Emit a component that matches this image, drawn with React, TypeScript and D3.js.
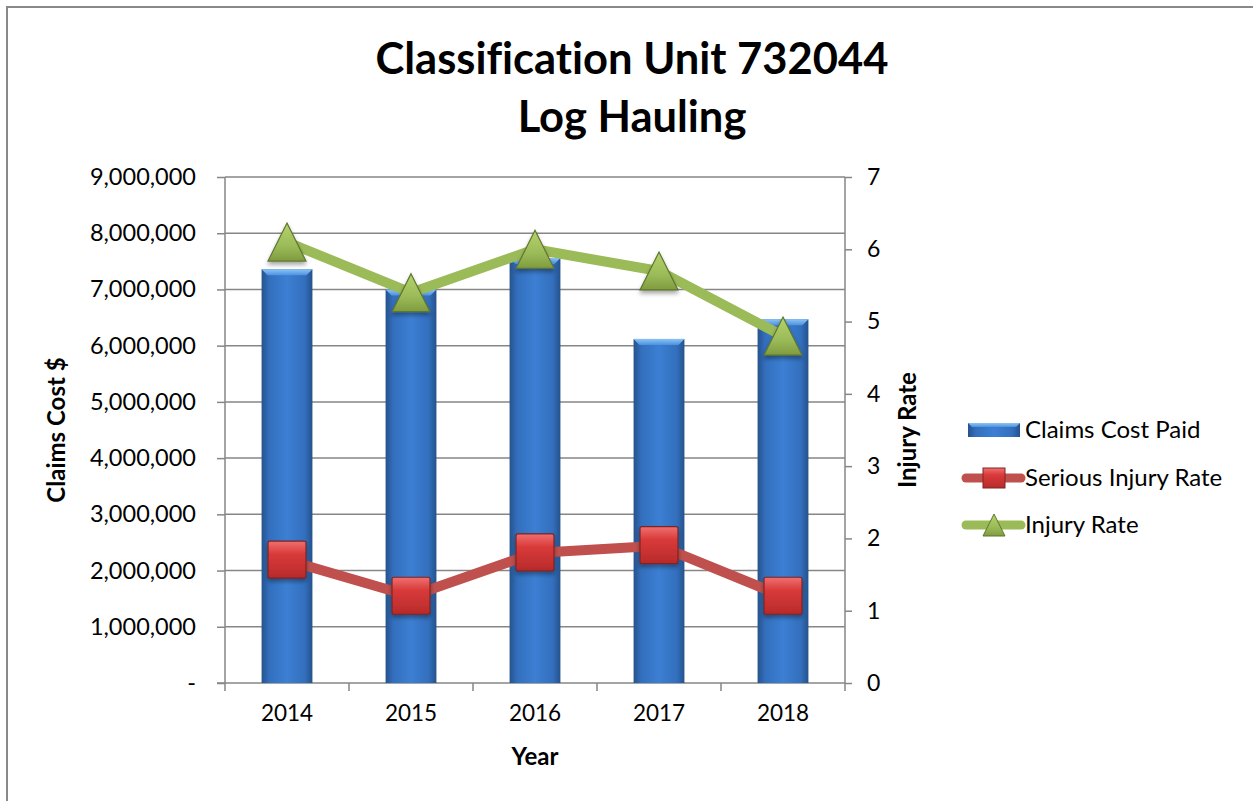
import * as d3 from 'd3';
import React, { useRef, useEffect } from 'react';

const years = ['2014', '2015', '2016', '2017', '2018'];
const claimsCost = [7360000, 7000000, 7560000, 6120000, 6470000];
const seriousRate = [1.7, 1.2, 1.8, 1.9, 1.2];
const injuryRate = [6.1, 5.4, 6.0, 5.7, 4.8];
const leftTicks = [0, 1000000, 2000000, 3000000, 4000000, 5000000, 6000000, 7000000, 8000000, 9000000];
const rightTicks = [0, 1, 2, 3, 4, 5, 6, 7];
const legendItems = ['Claims Cost Paid', 'Serious Injury Rate', 'Injury Rate'];

const FONT = 'Lato, "Open Sans", sans-serif';

const App = () => {
  const ref = useRef<SVGSVGElement>(null);

  const width = 1253, height = 801;
  const margin = { top: 177, right: 408, bottom: 118, left: 225 };

  useEffect(() => {
    const svg = d3.select(ref.current);
    svg.selectAll('*').remove();

    const x0 = margin.left, x1 = width - margin.right;
    const y0 = height - margin.bottom, y1 = margin.top;

    const defs = svg.append('defs');
    // bar gradient, darker at edges
    const bg = defs.append('linearGradient').attr('id', 'barGrad').attr('x1', '0').attr('x2', '1').attr('y1', '0').attr('y2', '0');
    bg.append('stop').attr('offset', '0%').attr('stop-color', '#25528c');
    bg.append('stop').attr('offset', '15%').attr('stop-color', '#336fbd');
    bg.append('stop').attr('offset', '50%').attr('stop-color', '#3c7fd3');
    bg.append('stop').attr('offset', '85%').attr('stop-color', '#336fbd');
    bg.append('stop').attr('offset', '100%').attr('stop-color', '#25528c');
    const bt = defs.append('linearGradient').attr('id', 'barTop').attr('x1', '0').attr('x2', '0').attr('y1', '0').attr('y2', '1');
    bt.append('stop').attr('offset', '0%').attr('stop-color', '#8cc4f5');
    bt.append('stop').attr('offset', '100%').attr('stop-color', '#4d92e0');
    const sq = defs.append('linearGradient').attr('id', 'sqGrad').attr('x1', '0').attr('x2', '0').attr('y1', '0').attr('y2', '1');
    sq.append('stop').attr('offset', '0%').attr('stop-color', '#f07070');
    sq.append('stop').attr('offset', '35%').attr('stop-color', '#d93a3a');
    sq.append('stop').attr('offset', '100%').attr('stop-color', '#b82a2a');
    const tg = defs.append('linearGradient').attr('id', 'triGrad').attr('x1', '0').attr('x2', '0').attr('y1', '0').attr('y2', '1');
    tg.append('stop').attr('offset', '0%').attr('stop-color', '#b5d36a');
    tg.append('stop').attr('offset', '60%').attr('stop-color', '#9bbb59');
    tg.append('stop').attr('offset', '100%').attr('stop-color', '#7f9c3e');
    const sh = defs.append('filter').attr('id', 'shadow').attr('x', '-30%').attr('y', '-30%').attr('width', '160%').attr('height', '160%');
    sh.append('feDropShadow').attr('dx', 0).attr('dy', 3).attr('stdDeviation', 2).attr('flood-color', '#000').attr('flood-opacity', 0.35);

    // outer border
    svg.append('rect').attr('x', 7).attr('y', 7).attr('width', width + 20).attr('height', height + 20)
      .attr('fill', 'none').attr('stroke', '#898989').attr('stroke-width', 2);

    const x = d3.scaleBand().domain(years).range([x0, x1]).paddingInner(0.59).paddingOuter(0.295);
    const yL = d3.scaleLinear().domain([0, 9000000]).range([y0, y1]);
    const yR = d3.scaleLinear().domain([0, 7]).range([y0, y1]);
    const cx = (d: string) => (x(d) as number) + x.bandwidth() / 2;

    // gridlines
    svg.append('g').selectAll('line').data(leftTicks.slice(1)).join('line')
      .attr('x1', x0).attr('x2', x1).attr('y1', d => yL(d)).attr('y2', d => yL(d))
      .attr('stroke', '#868686').attr('stroke-width', 1.5);

    // left axis
    const fmt = d3.format(',');
    const gl = svg.append('g').attr('transform', 'translate(' + x0 + ',0)')
      .call(d3.axisLeft(yL).tickValues(leftTicks).tickSize(8).tickFormat(d => (+d === 0 ? '-' : fmt(+d))));
    // right axis
    const gr = svg.append('g').attr('transform', 'translate(' + x1 + ',0)')
      .call(d3.axisRight(yR).tickValues(rightTicks).tickSize(7).tickFormat(d3.format('d')));
    // bottom axis
    const gb = svg.append('g').attr('transform', 'translate(0,' + y0 + ')')
      .call(d3.axisBottom(x).tickSize(0).tickPadding(22));
    const bounds = d3.range(years.length + 1).map(i => x0 + i * x.step());
    gb.selectAll('line.bnd').data(bounds).join('line').attr('class', 'bnd')
      .attr('x1', d => d).attr('x2', d => d).attr('y1', 0).attr('y2', 8)
      .attr('stroke', '#868686').attr('stroke-width', 1.5);

    [gl, gr, gb].forEach(g => {
      g.selectAll('.domain').attr('stroke', '#868686').attr('stroke-width', 1.5);
      g.selectAll('.tick line').attr('stroke', '#868686').attr('stroke-width', 1.5);
      g.selectAll('text').attr('font-family', FONT).attr('fill', '#000');
    });
    gl.selectAll('.tick text').attr('dx', -18).attr('font-size', 23.5);
    gr.selectAll('.tick text').attr('dx', 12).attr('font-size', 23);
    gb.selectAll('.tick text').attr('font-size', 22.5);
    gl.select('.domain').attr('d', 'M0,' + y1 + 'V' + y0);
    gr.select('.domain').attr('d', 'M0,' + y1 + 'V' + y0);
    gb.select('.domain').attr('d', 'M' + (x0 - 8) + ',0H' + x1);

    // bars
    const bars = svg.append('g');
    bars.selectAll('rect.bar').data(claimsCost).join('rect').attr('class', 'bar')
      .attr('x', (d, i) => x(years[i]) as number).attr('width', x.bandwidth())
      .attr('y', d => yL(d)).attr('height', d => y0 - yL(d))
      .attr('fill', 'url(#barGrad)');
    bars.selectAll('path.bev').data(claimsCost).join('path').attr('class', 'bev')
      .attr('d', (d, i) => {
        const bx = x(years[i]) as number, bw = x.bandwidth(), by = yL(d);
        return 'M' + bx + ',' + by + 'H' + (bx + bw) + 'L' + (bx + bw - 6) + ',' + (by + 6) + 'H' + (bx + 6) + 'Z';
      })
      .attr('fill', 'url(#barTop)');

    // lines
    const line = (sc: d3.ScaleLinear<number, number>) => d3.line<number>()
      .x((d, i) => cx(years[i])).y(d => sc(d));

    svg.append('path').datum(injuryRate).attr('fill', 'none').attr('stroke', '#9bbb59')
      .attr('stroke-width', 10).attr('stroke-linejoin', 'round').attr('d', line(yR));
    svg.append('path').datum(seriousRate).attr('fill', 'none').attr('stroke', '#c0504d')
      .attr('stroke-width', 10).attr('stroke-linejoin', 'round').attr('d', line(yR));

    const tri = (px: number, py: number, s: number) =>
      'M' + px + ',' + (py - s / 2) + 'L' + (px + s / 2) + ',' + (py + s / 2) + 'L' + (px - s / 2) + ',' + (py + s / 2) + 'Z';

    svg.append('g').selectAll('path').data(injuryRate).join('path')
      .attr('d', (d, i) => tri(cx(years[i]), yR(d), 38))
      .attr('fill', 'url(#triGrad)').attr('stroke', '#5f7530').attr('stroke-width', 1.2)
      .attr('filter', 'url(#shadow)');
    svg.append('g').selectAll('rect').data(seriousRate).join('rect')
      .attr('x', (d, i) => cx(years[i]) - 19).attr('y', d => yR(d) - 19)
      .attr('width', 38).attr('height', 37).attr('rx', 2)
      .attr('fill', 'url(#sqGrad)').attr('stroke', '#7e2422').attr('stroke-width', 1.2)
      .attr('filter', 'url(#shadow)');

    // titles
    const title = svg.append('text').attr('x', 630).attr('text-anchor', 'middle')
      .attr('font-family', FONT).attr('font-weight', 'bold').attr('font-size', 43.5).attr('fill', '#000')
      .style('font-variant-ligatures', 'none');
    title.append('tspan').attr('x', 632).attr('y', 74).text('Classification Unit 732044');
    title.append('tspan').attr('x', 632).attr('y', 132).text('Log Hauling');

    svg.append('text').attr('x', (x0 + x1) / 2).attr('y', 765).attr('text-anchor', 'middle')
      .attr('font-family', FONT).attr('font-weight', 'bold').attr('font-size', 24).text('Year');
    svg.append('text').attr('transform', 'translate(65,' + (y0 + y1) / 2 + ') rotate(-90)')
      .attr('text-anchor', 'middle').attr('font-family', FONT).attr('font-weight', 'bold')
      .attr('font-size', 24).text('Claims Cost $');
    svg.append('text').attr('transform', 'translate(916,' + (y0 + y1) / 2 + ') rotate(-90)')
      .attr('text-anchor', 'middle').attr('font-family', FONT).attr('font-weight', 'bold')
      .attr('font-size', 24).text('Injury Rate');

    // legend
    const lg = svg.append('g').attr('transform', 'translate(963,430)');
    lg.append('rect').attr('x', 5).attr('y', -7).attr('width', 52).attr('height', 14).attr('fill', 'url(#barGrad)');
    lg.append('path').attr('d', 'M5,-7H57L53,-3H9Z').attr('fill', 'url(#barTop)');
    lg.append('line').attr('x1', 3).attr('x2', 58).attr('y1', 48).attr('y2', 48)
      .attr('stroke', '#c0504d').attr('stroke-width', 9).attr('stroke-linecap', 'round');
    lg.append('rect').attr('x', 20).attr('y', 38).attr('width', 22).attr('height', 20)
      .attr('fill', 'url(#sqGrad)').attr('stroke', '#7e2422').attr('stroke-width', 1);
    lg.append('line').attr('x1', 3).attr('x2', 58).attr('y1', 95).attr('y2', 95)
      .attr('stroke', '#9bbb59').attr('stroke-width', 9).attr('stroke-linecap', 'round');
    lg.append('path').attr('d', tri(31, 95, 22)).attr('fill', 'url(#triGrad)').attr('stroke', '#5f7530').attr('stroke-width', 1);
    lg.selectAll('text').data(legendItems).join('text')
      .attr('x', 62).attr('y', (d, i) => i * 47.5).attr('dy', '0.35em')
      .attr('font-family', FONT).attr('font-size', 24).attr('fill', '#000').text(d => d);
  });

  return (
    <svg ref={ref} width={width} height={height}
      style={{ position: 'absolute', left: 0, top: 0, background: '#fff' }} />
  );
};

export default App;
